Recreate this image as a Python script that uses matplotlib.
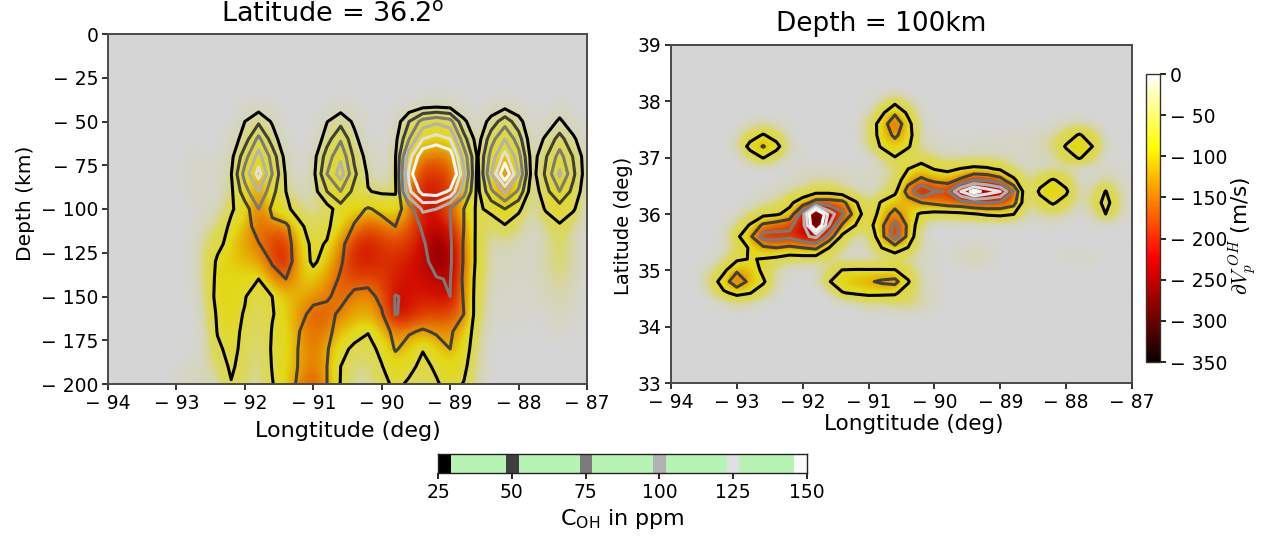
import matplotlib
matplotlib.use("Agg")
import matplotlib.pyplot as plt
import numpy as np
from matplotlib.cm import ScalarMappable
from matplotlib.colors import LinearSegmentedColormap, Normalize

# C_OH (ppm) along the latitude slice
slice_lons = [-93.0 + 0.2 * i for i in range(31)]
slice_depths = [40, 50, 60, 70, 80, 90, 100, 110, 120, 130, 140, 150, 160, 170, 180, 190, 200]
slice_coh = [
    [0,0, 0,0,0,2,8,2,0,0,0,2, 8,2,0,0,0,2,8,10,8,2, 0,3,10,3,0,0,6,2,0],
    [0,0, 0,0,3,25,45,22,2,0,0,24, 42,20,0,0,10,50,85,95,85,30, 5,35,65,35,2,8,30,8,0],
    [0,0, 0,0,8,38,82,38,5,0,0,40, 72,32,5,0,18,75,125,135,125,60, 12,65,100,62,5,30,60,30,2],
    [0,6, 6,3,18,65,110,65,15,0,15,62, 95,45,15,2,24,115,170,180,165,90, 22,85,135,85,12,48,85,48,10],
    [0,8, 8,5,24,85,135,75,22,2,18,75, 112,55,22,3,25,130,210,215,190,105, 18,100,175,100,14,55,105,55,10],
    [0,4, 5,3,20,65,100,58,25,5,14,50, 75,42,26,22,22,120,160,165,145,85, 18,70,105,70,8,42,75,42,8],
    [0,0, 3,5,22,38,75,45,30,15,8,15, 38,42,52,45,40,62,105,100,75,50, 20,32,50,30,3,28,38,28,3],
    [0,0, 5,10,30,42,58,55,55,30,14,22, 35,52,62,58,50,62,78,88,76,50, 20,10,22,10,3,8,22,8,0],
    [0,0, 8,20,32,40,49,60,62,32,22,26, 45,62,68,62,58,62,72,88,78,48, 20,4,5,4,2,6,12,6,0],
    [0,0, 8,28,30,34,36,52,65,32,23,30, 48,62,64,60,60,65,70,82,78,48, 20,3,4,3,2,6,12,6,0],
    [0,0, 8,30,28,28,25,42,50,35,30,42, 52,56,56,58,65,68,70,74,76,46, 18,3,3,2,2,5,9,5,0],
    [0,0, 6,32,29,26,15,25,35,38,45,48, 55,46,44,55,76,72,70,72,75,48, 16,2,2,2,2,4,6,4,0],
    [0,0, 4,28,30,24,12,24,32,45,55,55, 47,42,40,48,76,70,62,60,60,50, 15,2,2,2,1,2,4,2,0],
    [0,0, 3,26,30,22,10,26,34,50,60,55, 42,35,26,42,55,52,48,52,52,42, 12,1,1,1,0,1,2,1,0],
    [0,0, 4,22,30,20,10,27,36,52,62,52, 32,20,18,30,52,42,26,42,50,36, 10,1,0,0,0,0,0,0,0],
    [1,3, 5,15,28,17,8,26,38,52,62,50, 25,12,10,24,38,30,20,28,38,30, 8,1,0,0,0,0,0,0,0],
    [3,5, 4,5,24,13,8,24,38,55,65,50, 24,8,8,18,30,22,15,23,32,24, 6,0,0,0,0,0,0,0,0],
]
# dVp per ppm at each depth of the slice
dv_per_ppm = [0.7, 0.7, 0.7, 0.85, 0.9, 1.3, 2.1, 2.7, 3.1, 3.3, 3.2, 3.0, 3.0, 2.6, 2.4, 2.4, 2.6]

# C_OH (ppm) at 100 km
map_lons = [-93.4 + 0.2 * i for i in range(32)]
map_lats = [34.4 + 0.2 * i for i in range(19)]
map_coh = [
    [0,0,8,3,0,0,0,0,0,0,0,0,8,6,10,12,8,3,0,0,0,0,0,0,0,0,0,0,0,0,0,0],
    [6,22,30,26,14,2,0,0,0,0,24,28,30,30,28,15,5,2,0,0,0,0,0,0,0,0,0,0,0,0,0,0],
    [12,36,70,42,28,5,0,0,0,24,35,42,47,54,58,27,5,2,0,0,0,0,0,0,0,0,0,0,0,0,0,0],
    [5,20,46,40,20,5,0,0,0,10,26,27,27,27,26,15,3,1,0,0,0,0,0,0,0,0,0,0,0,0,0,0],
    [0,5,21,26,24,20,14,14,12,8,3,2,1,2,10,6,3,2,0,4,7,4,0,0,0,0,0,2,3,2,0,0],
    [0,3,10,28,45,50,45,50,55,25,8,2,5,25,38,24,5,1,0,2,3,2,0,0,0,0,0,0,0,0,0,0],
    [0,1,20,45,85,85,80,95,105,65,20,5,5,42,90,42,3,0,0,0,0,0,0,0,0,0,0,0,0,0,0,0],
    [0,1,8,27,55,62,70,90,190,100,47,25,15,45,82,45,8,0,0,0,0,0,0,0,0,0,0,0,0,0,0,0],
    [0,0,2,8,18,22,32,90,210,115,80,38,10,34,60,34,22,18,18,20,24,28,30,26,4,6,12,6,0,4,25,6],
    [0,0,0,2,5,8,20,38,62,62,58,28,6,28,38,40,50,55,62,65,72,75,72,60,5,18,27,18,4,12,32,10],
    [0,0,0,0,1,3,6,10,18,18,12,4,3,5,20,60,100,77,74,125,160,140,125,75,4,28,42,28,4,5,26,6],
    [0,0,0,0,0,0,2,4,6,6,4,2,3,5,10,42,55,45,40,55,75,72,60,30,5,18,27,18,2,2,8,3],
    [0,0,0,0,0,0,0,2,3,2,2,1,2,4,8,25,35,24,20,26,30,28,22,8,4,3,5,4,2,1,2,2],
    [0,0,0,12,26,12,2,1,0,0,0,0,0,8,24,8,15,8,4,4,5,5,4,3,2,3,5,16,27,14,0,0],
    [0,0,5,32,52,32,5,0,0,0,0,0,8,28,38,28,5,3,2,1,2,2,2,2,2,6,10,27,42,25,3,0],
    [0,0,3,15,27,15,1,0,0,0,0,0,10,34,55,34,4,1,1,1,1,1,2,2,2,3,6,16,27,16,1,0],
    [0,0,0,2,5,2,0,0,0,0,0,0,10,35,70,32,3,0,0,0,0,0,0,0,0,0,1,3,5,2,0,0],
    [0,0,0,0,0,0,0,0,0,0,0,0,2,20,45,20,2,0,0,0,0,0,0,0,0,0,0,0,0,0,0,0],
    [0,0,0,0,0,0,0,0,0,0,0,0,0,4,18,4,0,0,0,0,0,0,0,0,0,0,0,0,0,0,0,0],
]
# dVp against C_OH at 100 km
map_coh_pts = [0, 10, 25, 50, 75, 100, 150, 210]
map_dv_pts = [0, -30, -78, -130, -190, -235, -290, -330]

coh_levels = [25, 50, 75, 100, 125, 150]
coh_colors = ["#000000", "#3f3f3f", "#7a7a7a", "#b2b2b2", "#e0e0e0", "#fafafa"]
band_lo = [25, 48, 73, 98, 123, 145.5]
band_hi = [29.5, 52.4, 77.3, 102.1, 127, 150]

dv_ticks = [0, -50, -100, -150, -200, -250, -300, -350]
depth_ticks = [0, -25, -50, -75, -100, -125, -150, -175, -200]
lon_ticks = [-94, -93, -92, -91, -90, -89, -88, -87]
lat_ticks = [33, 34, 35, 36, 37, 38, 39]
coh_ticks = [25, 50, 75, 100, 125, 150]

W, H = 1270, 539
EDGE = "#4a4a4a"
plt.rcParams["font.family"] = ["DejaVu Sans"]


def axes_px(fig, x0, x1, y0, y1):
    return fig.add_axes([x0 / W, 1 - y1 / H, (x1 - x0) / W, (y1 - y0) / H])


def neg(v):
    return f"\u2212 {abs(v)}" if v < 0 else str(v)


def style(ax):
    for s in ax.spines.values():
        s.set_color(EDGE)
        s.set_linewidth(1.4)
    ax.tick_params(labelsize=13.5, length=4, width=1.3, color="#222222", pad=3)


# image colours: hot seen through the grey background, fading out near zero
stops = [-350, -290, -265, -220, -170, -130, -92, -35, -12, 0]
stop_rgba = [
    (0, 0, 0, 1), (0.42, 0, 0, 1), (0.6, 0, 0, 1), (0.82, 0.05, 0, 1), (0.89, 0.33, 0, 1),
    (0.91, 0.6, 0, 1), (0.89, 0.85, 0.08, 1), (0.86, 0.85, 0.4, 1), (0.84, 0.84, 0.65, 0.5), (0.84, 0.84, 0.65, 0),
]
field_cmap = LinearSegmentedColormap.from_list(
    "field", [((s + 350) / 350, c) for s, c in zip(stops, stop_rgba)], N=512
)
norm = Normalize(-350, 0)

fig = plt.figure(figsize=(W / 100, H / 100), dpi=100)

# left panel
coh = np.array(slice_coh, dtype=float)
dv = -coh * np.array(dv_per_ppm)[:, None]
pad_top = 4
pad_left = 5
coh_full = np.pad(coh, ((pad_top, 0), (pad_left, 0)))
dv_full = np.pad(dv, ((pad_top, 0), (pad_left, 0)))
lons_full = np.array([-94 + 0.2 * i for i in range(pad_left)] + slice_lons)
depths_full = np.array([0, 10, 20, 30] + slice_depths)

ax = axes_px(fig, 108, 587, 34, 384)
ax.set_facecolor("#d5d5d5")
ax.imshow(dv_full, cmap=field_cmap, norm=norm, interpolation="bicubic", aspect="auto",
          extent=[-94.1, -86.9, -205, 5], origin="upper")
ax.contour(lons_full, -depths_full, coh_full, levels=coh_levels, colors=coh_colors, linewidths=2.2)
ax.set_xlim(-94, -87)
ax.set_ylim(-200, 0)
ax.set_xticks(lon_ticks, [neg(v) for v in lon_ticks])
ax.set_yticks(depth_ticks, [neg(v) for v in depth_ticks])
ax.set_xlabel("Longtitude (deg)", fontsize=16, labelpad=6)
ax.set_ylabel("Depth (km)", fontsize=14.5, labelpad=4, y=0.515)
style(ax)
fig.text(333 / W, 1 - 15 / H, r"Latitude = 36.2$^{\mathrm{o}}$", fontsize=19.5, ha="center", va="center")

# right panel
m_coh = np.array(map_coh, dtype=float)
m_dv = np.interp(m_coh, map_coh_pts, map_dv_pts)
m_coh_full = np.pad(m_coh, ((2, 5), (3, 1)))
m_dv_full = np.pad(m_dv, ((2, 5), (3, 1)))
m_lons = np.array([-94.0, -93.8, -93.6] + map_lons + [-87.0])
m_lats = np.array([34.0, 34.2] + map_lats + [38.2, 38.4, 38.6, 38.8, 39.0])

ax2 = axes_px(fig, 671, 1132, 45, 383)
ax2.set_facecolor("#d5d5d5")
ax2.imshow(m_dv_full, cmap=field_cmap, norm=norm, interpolation="bicubic", aspect="auto",
           extent=[-94.1, -86.9, 33.9, 39.1], origin="lower")
ax2.contour(m_lons, m_lats, m_coh_full, levels=coh_levels, colors=coh_colors, linewidths=2.2)
ax2.set_xlim(-94, -87)
ax2.set_ylim(33, 39)
ax2.set_xticks(lon_ticks, [neg(v) for v in lon_ticks])
ax2.set_yticks(lat_ticks)
ax2.set_xlabel("Longtitude (deg)", fontsize=15.5, labelpad=2, x=0.527)
ax2.set_ylabel("Latitude (deg)", fontsize=14, labelpad=3, y=0.464)
style(ax2)
fig.text(881 / W, 1 - 24 / H, "Depth = 100km", fontsize=19, ha="center", va="center")

# velocity colourbar
cax = axes_px(fig, 1146, 1160, 74, 362)
cb = fig.colorbar(ScalarMappable(norm=norm, cmap="hot"), cax=cax)
cb.set_ticks(dv_ticks, labels=[neg(v) for v in dv_ticks])
cb.outline.set_edgecolor("#333333")
cb.outline.set_linewidth(1.0)
cax.tick_params(labelsize=13.5, length=4, width=1.2, pad=3)
fig.text(1243 / W, 1 - 236 / H, r"$\partial V_p^{\ OH}$ (m/s)", rotation=90, fontsize=15.5,
         ha="center", va="center", math_fontfamily="cm")

# C_OH key
kax = axes_px(fig, 438, 807, 454, 473)
kax.set_facecolor("#b6f3b5")
for lo, hi, c in zip(band_lo, band_hi, coh_colors):
    kax.axvspan(lo, hi, color=c, lw=0)
kax.set_xlim(25, 150)
kax.set_yticks([])
kax.set_xticks(coh_ticks)
kax.tick_params(labelsize=13.5, length=4, width=1.2, pad=3)
for s in kax.spines.values():
    s.set_color("#222222")
    s.set_linewidth(1.0)
kax.set_xlabel(r"C$_{\mathrm{OH}}$ in ppm", fontsize=16, labelpad=4)

fig.savefig("out.png", dpi=100)
